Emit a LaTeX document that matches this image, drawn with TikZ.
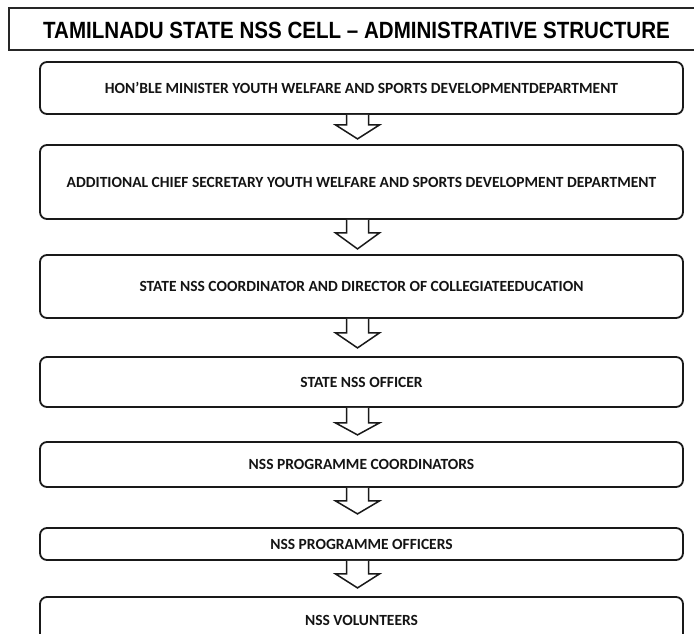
\documentclass[tikz,border=0pt]{standalone}
\usepackage{fontspec}
\setmainfont{Carlito}
\newfontfamily\titlefont{Liberation Sans}
\usetikzlibrary{calc}
\newcommand\blockarr[4]{%
  \draw[blockarrow] ($(#1.south)+(-15,0)$) -- ($(#1.south)+(-15,#3)$) -- ($(#1.south)+(-26,#3)$)
    -- ($(#1.south)+(-4,#4)$) -- ($(#1.south)+(18,#3)$) -- ($(#1.south)+(7,#3)$) -- ($(#1.south)+(7,0)$);}
\begin{document}
\begin{tikzpicture}[x=1pt,y=-1pt,
  box/.style={draw=black!90, line width=1.8pt, rounded corners=7pt, minimum width=643pt, inner sep=0pt,
    text=black!92, font=\bfseries\fontsize{15.5}{18}\selectfont},
  blockarrow/.style={draw=black!90, line width=1.5pt, fill=white, line join=miter}]
\useasboundingbox (0,0) rectangle (694,633);
\fill[white] (0,0) rectangle (694,633);
% title frame
\draw[black!85, line width=1.2pt] (9,8) rectangle (710,50);
\node (title) at (356.5,30) {\scalebox{0.875}[1]{\titlefont\bfseries\fontsize{23.5}{26}\selectfont TAMILNADU STATE NSS CELL – ADMINISTRATIVE STRUCTURE}};
% boxes
\node[box, minimum height=52pt] (b1) at (361.5,88) {HON’BLE MINISTER YOUTH WELFARE AND SPORTS DEVELOPMENTDEPARTMENT};
\node[box, minimum height=74pt] (b2) at (361.5,182) {ADDITIONAL CHIEF SECRETARY YOUTH WELFARE AND SPORTS DEVELOPMENT DEPARTMENT};
\node[box, minimum height=63pt] (b3) at (361.5,286.5) {STATE NSS COORDINATOR AND DIRECTOR OF COLLEGIATEEDUCATION};
\node[box, minimum height=50pt] (b4) at (361.5,382) {STATE NSS OFFICER};
\node[box, minimum height=45pt] (b5) at (361.5,464.5) {NSS PROGRAMME COORDINATORS};
\node[box, minimum height=32pt] (b6) at (361.5,544) {NSS PROGRAMME OFFICERS};
\node[box, minimum height=46pt] (b7) at (361.5,620) {NSS VOLUNTEERS};
% block arrows
\blockarr{b1}{b2}{10}{24}
\blockarr{b2}{b3}{13}{29}
\blockarr{b3}{b4}{14}{29}
\blockarr{b4}{b5}{15}{27}
\blockarr{b5}{b6}{13}{26}
\blockarr{b6}{b7}{13}{27}
\end{tikzpicture}
\end{document}
